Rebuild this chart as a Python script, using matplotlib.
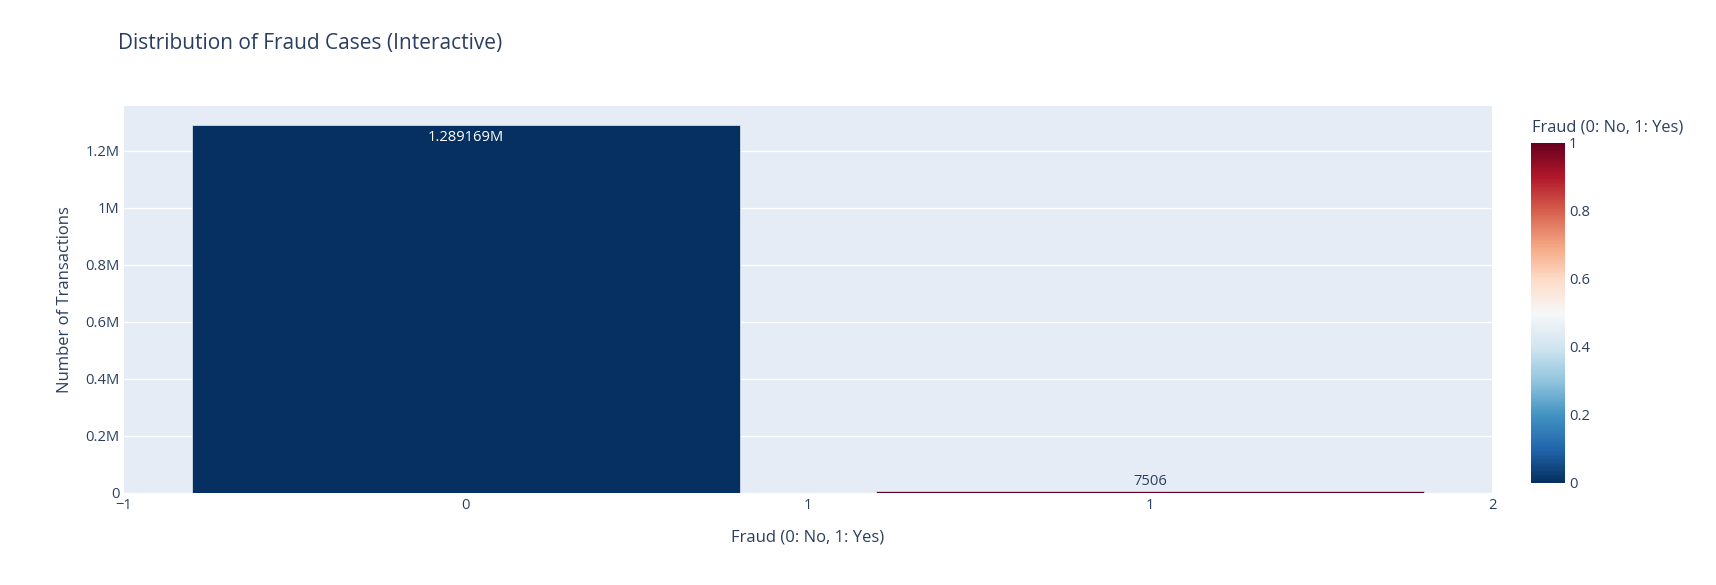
import matplotlib
matplotlib.use("Agg")
import matplotlib.pyplot as plt
from matplotlib import cm, colors
import numpy as np

# ---- data ----
categories = [0, 1]
counts = [1289169, 7506]
bar_labels = ["1.289169M", "7506"]
fraud_values = [0, 1]
y_ticks = [0, 200000, 400000, 600000, 800000, 1000000, 1200000]
y_tick_labels = ["0", "0.2M", "0.4M", "0.6M", "0.8M", "1M", "1.2M"]
x_ticks = [-0.5, 0, 0.5, 1, 1.5]
x_tick_labels = ["\u22121", "0", "1", "1", "2"]
cbar_ticks = [0, 0.2, 0.4, 0.6, 0.8, 1]
cbar_tick_labels = ["0", "0.2", "0.4", "0.6", "0.8", "1"]

TXT = "#2a3f5f"
plt.rcParams['font.family'] = ['Open Sans', 'DejaVu Sans']

W, H = 1716, 585
fig = plt.figure(figsize=(W / 100, H / 100), dpi=100)
fig.patch.set_facecolor("white")

def px(x0, y0, x1, y1):
    return [x0 / W, 1 - y1 / H, (x1 - x0) / W, (y1 - y0) / H]

ax = fig.add_axes(px(124, 106, 1492, 493))
ax.set_facecolor("#E5ECF6")
for s in ax.spines.values():
    s.set_visible(False)

cmap = plt.get_cmap("RdBu_r")
norm = colors.Normalize(0, 1)
bar_colors = [cmap(norm(v)) for v in fraud_values]

ax.bar(categories, counts, width=0.8, color=bar_colors, edgecolor="#E5ECF6",
       linewidth=0.5, zorder=3)

ymax = counts[0] * 1.0526
ax.set_ylim(0, ymax)
ax.set_xlim(-0.5, 1.5)

TICK = 10.6
ax.set_yticks(y_ticks)
ax.set_yticklabels(y_tick_labels)
ax.set_xticks(x_ticks)
ax.set_xticklabels(x_tick_labels)
ax.tick_params(axis="both", length=0, labelsize=TICK, colors=TXT)
ax.tick_params(axis="y", pad=3)
ax.tick_params(axis="x", pad=3.5)
ax.grid(axis="y", color="white", linewidth=1, zorder=0)
ax.set_axisbelow(True)

# bar text labels
ax.annotate(bar_labels[0], (categories[0], counts[0]), xytext=(0, -3),
            textcoords="offset points", ha="center", va="top",
            color="white", fontsize=TICK, zorder=5)
ax.annotate(bar_labels[1], (categories[1], counts[1]), xytext=(0, 1.5),
            textcoords="offset points", ha="center", va="bottom",
            color=TXT, fontsize=TICK, zorder=5)

ax.set_ylabel("Number of Transactions", fontsize=12.0, color=TXT, labelpad=9)
ax.set_xlabel("Fraud (0: No, 1: Yes)", fontsize=12.0, color=TXT, labelpad=12)

fig.text(118 / W, 1 - 44 / H, "Distribution of Fraud Cases (Interactive)",
         fontsize=15.0, color=TXT, ha="left", va="center")

# colorbar
cax = fig.add_axes(px(1531, 143, 1565, 483))
sm = cm.ScalarMappable(norm=norm, cmap=cmap)
cb = fig.colorbar(sm, cax=cax, ticks=cbar_ticks)
cb.ax.set_yticklabels(cbar_tick_labels)
cb.outline.set_visible(False)
cb.ax.tick_params(length=0, labelsize=TICK, colors=TXT, pad=3)
fig.text(1532 / W, 1 - 128 / H, "Fraud (0: No, 1: Yes)", fontsize=11.8,
         color=TXT, ha="left", va="center")

fig.savefig("out.png", dpi=100, facecolor="white")
